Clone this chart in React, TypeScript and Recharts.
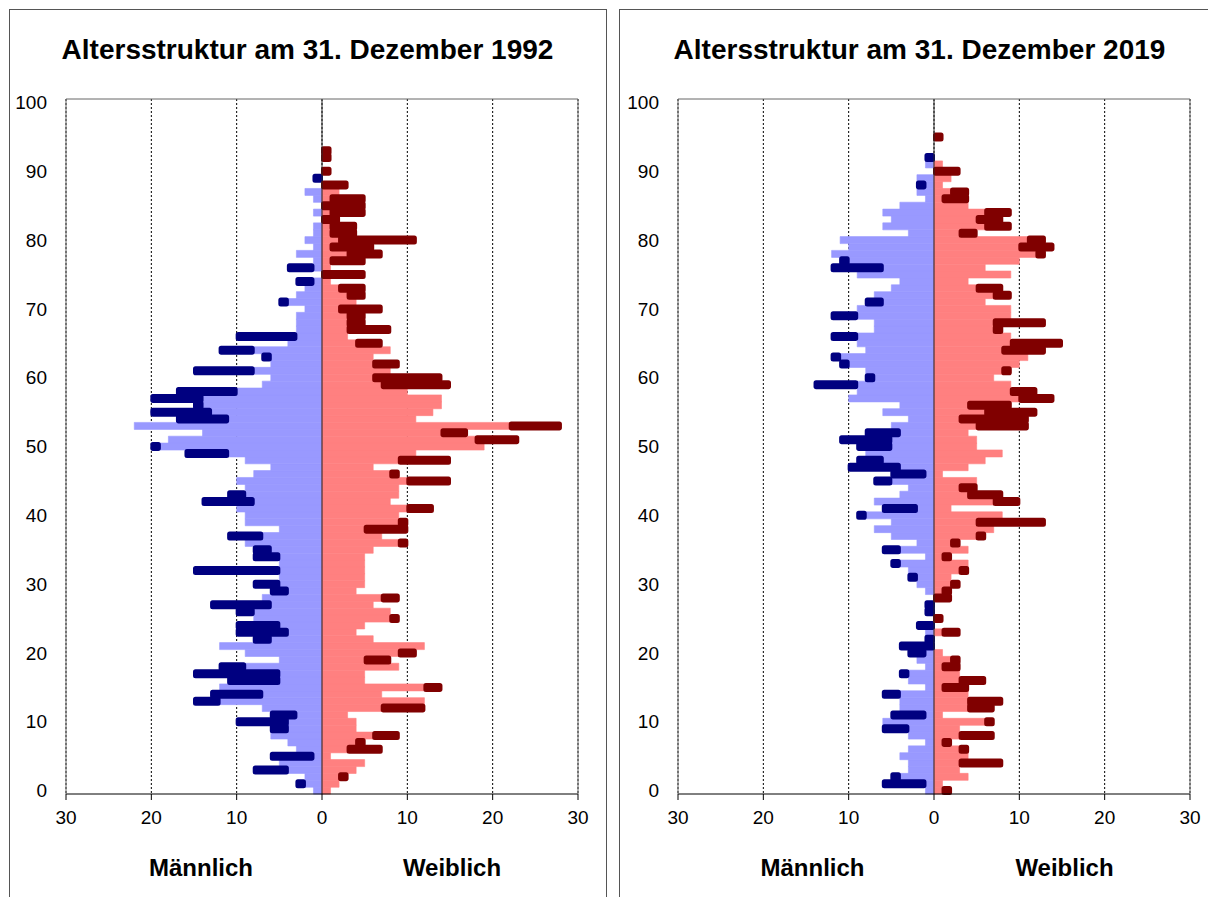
import { BarChart, Bar, XAxis, YAxis, CartesianGrid, ReferenceLine } from 'recharts';

// ages 0..100 (category axis), values are persons per year of age
const AGES = Array.from({ length: 101 }, (_, i) => i);
const X_TICKS = [-30, -20, -10, 0, 10, 20, 30];

const MALE_1992 = [
  1, 3, 2, 8, 5, 6, 3, 4, 6, 6,
  10, 6, 7, 15, 13, 12, 11, 15, 12, 5,
  9, 12, 8, 10, 10, 8, 10, 13, 7, 6,
  8, 5, 15, 5, 8, 8, 9, 11, 5, 9,
  9, 10, 14, 11, 9, 10, 8, 6, 9, 16,
  20, 18, 14, 22, 17, 20, 15, 20, 17, 7,
  6, 15, 6, 7, 12, 4, 10, 3, 3, 3,
  2, 5, 3, 2, 3, 0, 4, 1, 3, 1,
  2, 1, 1, 0, 1, 0, 1, 2, 0, 1,
  0, 0, 0, 0,
];
const FEMALE_1992 = [
  1, 2, 3, 4, 5, 1, 7, 5, 9, 4,
  4, 3, 12, 12, 7, 14, 5, 5, 9, 8,
  11, 12, 6, 4, 5, 9, 8, 6, 9, 4,
  5, 5, 5, 5, 5, 6, 10, 7, 10, 10,
  9, 13, 8, 9, 9, 15, 9, 6, 15, 11,
  19, 23, 17, 28, 11, 13, 14, 14, 10, 15,
  14, 8, 9, 6, 8, 7, 3, 8, 5, 5,
  7, 4, 5, 5, 1, 5, 1, 5, 7, 6,
  11, 4, 4, 2, 5, 5, 5, 2, 3, 0,
  1, 0, 1, 1,
];

const MALE_2019 = [
  1, 6, 5, 3, 3, 4, 3, 1, 3, 6,
  6, 5, 4, 4, 6, 1, 3, 4, 1, 2,
  3, 4, 1, 1, 2, 0, 1, 1, 0, 1,
  2, 3, 3, 5, 1, 6, 2, 5, 7, 5,
  9, 6, 7, 4, 3, 7, 5, 10, 9, 8,
  9, 11, 8, 5, 3, 6, 4, 10, 9, 14,
  8, 8, 11, 12, 8, 9, 12, 7, 7, 12,
  9, 8, 7, 5, 4, 9, 12, 11, 12, 10,
  11, 3, 6, 5, 6, 4, 1, 2, 2, 2,
  0, 1, 1, 0, 0, 0,
];
const FEMALE_2019 = [
  2, 1, 4, 3, 8, 4, 4, 2, 7, 3,
  7, 1, 7, 8, 4, 4, 6, 3, 3, 3,
  1, 0, 0, 3, 0, 1, 0, 0, 2, 2,
  3, 2, 4, 4, 2, 4, 3, 6, 7, 13,
  8, 2, 10, 8, 5, 5, 1, 4, 6, 8,
  5, 5, 4, 11, 11, 12, 9, 14, 12, 9,
  7, 9, 10, 11, 13, 15, 9, 8, 13, 9,
  9, 6, 9, 8, 4, 9, 6, 10, 13, 14,
  13, 5, 9, 8, 9, 4, 4, 4, 1, 2,
  3, 1, 0, 0, 0, 1,
];

const LIGHT_BLUE = '#9999ff';
const DARK_BLUE = '#000080';
const LIGHT_RED = '#ff8080';
const DARK_RED = '#800000';
const FRAME = '#666';
const FONT = '"Liberation Sans", Arial, Helvetica, sans-serif';

// common part of both sexes in light colour, the surplus of one sex in dark
function buildRows(male: number[], female: number[]) {
  return AGES.map((age) => {
    const m = male[age] ?? 0;
    const f = female[age] ?? 0;
    const common = Math.min(m, f);
    return {
      age,
      mBase: -common,
      fBase: common,
      mExtra: -(m - common),
      fExtra: f - common,
    };
  });
}

const tickStyle = { fill: '#000', fontSize: 19, fontFamily: FONT };

function Pyramid({ rows, left }: { rows: ReturnType<typeof buildRows>; left: number }) {
  return (
    <div style={{ position: 'absolute', left, top: 0 }}>
      <BarChart
        width={606}
        height={860}
        data={rows}
        layout="vertical"
        stackOffset="sign"
        barCategoryGap={0}
        barGap={0}
        margin={{ top: 98, right: 27, bottom: 26, left: 0 }}
      >
        <CartesianGrid horizontal={false} stroke="#000" strokeDasharray="2 2" />
        <XAxis
          type="number"
          domain={[-30, 30]}
          ticks={X_TICKS}
          allowDataOverflow
          tickFormatter={(v) => String(Math.abs(v))}
          height={40}
          tickSize={6}
          tickMargin={11}
          axisLine={{ stroke: '#000' }}
          tickLine={{ stroke: '#000' }}
          tick={tickStyle}
        />
        <XAxis
          xAxisId="top"
          orientation="top"
          type="number"
          domain={[-30, 30]}
          height={1}
          tick={false}
          tickLine={false}
          axisLine={{ stroke: FRAME }}
        />
        <YAxis
          type="category"
          dataKey="age"
          reversed
          width={66}
          interval={9}
          tickLine={false}
          axisLine={{ stroke: FRAME }}
          tickMargin={13}
          tick={tickStyle}
        />
        <YAxis
          yAxisId="right"
          orientation="right"
          type="category"
          dataKey="age"
          reversed
          width={1}
          tick={false}
          tickLine={false}
          axisLine={{ stroke: FRAME }}
        />
        <Bar dataKey="mBase" stackId="p" fill={LIGHT_BLUE} stroke={LIGHT_BLUE} strokeWidth={0.6} isAnimationActive={false} />
        <Bar dataKey="fBase" stackId="p" fill={LIGHT_RED} stroke={LIGHT_RED} strokeWidth={0.6} isAnimationActive={false} />
        <Bar dataKey="mExtra" stackId="p" fill={DARK_BLUE} stroke={DARK_BLUE} strokeWidth={2} radius={1.5} isAnimationActive={false} />
        <Bar dataKey="fExtra" stackId="p" fill={DARK_RED} stroke={DARK_RED} strokeWidth={2} radius={1.5} isAnimationActive={false} />
        <ReferenceLine x={0} stroke="#222" strokeWidth={1} />
      </BarChart>
    </div>
  );
}

function Label({ text, cx, top, size }: { text: string; cx: number; top: number; size: number }) {
  return (
    <div
      style={{
        position: 'absolute',
        left: cx - 300,
        width: 600,
        top,
        textAlign: 'center',
        fontSize: size,
        lineHeight: `${size}px`,
        fontWeight: 'bold',
        whiteSpace: 'nowrap',
      }}
    >
      {text}
    </div>
  );
}

export default function App() {
  const rows1992 = buildRows(MALE_1992, FEMALE_1992);
  const rows2019 = buildRows(MALE_2019, FEMALE_2019);

  return (
    <div
      style={{
        position: 'absolute',
        left: 0,
        top: 0,
        width: 1208,
        height: 897,
        overflow: 'hidden',
        background: '#fff',
        fontFamily: FONT,
        color: '#000',
      }}
    >
      <div style={{ position: 'absolute', left: 9, top: 9, width: 596, height: 900, border: '1px solid #555' }} />
      <div style={{ position: 'absolute', left: 619, top: 9, width: 640, height: 900, border: '1px solid #555' }} />

      <Label text="Altersstruktur am 31. Dezember 1992" cx={307.5} top={36.3} size={28} />
      <Label text="Altersstruktur am 31. Dezember 2019" cx={919.5} top={36.3} size={28} />

      <Pyramid rows={rows1992} left={0} />
      <Pyramid rows={rows2019} left={612} />

      <Label text="Männlich" cx={201} top={855.7} size={24} />
      <Label text="Weiblich" cx={452} top={855.7} size={24} />
      <Label text="Männlich" cx={812.5} top={855.7} size={24} />
      <Label text="Weiblich" cx={1064.5} top={855.7} size={24} />
    </div>
  );
}
